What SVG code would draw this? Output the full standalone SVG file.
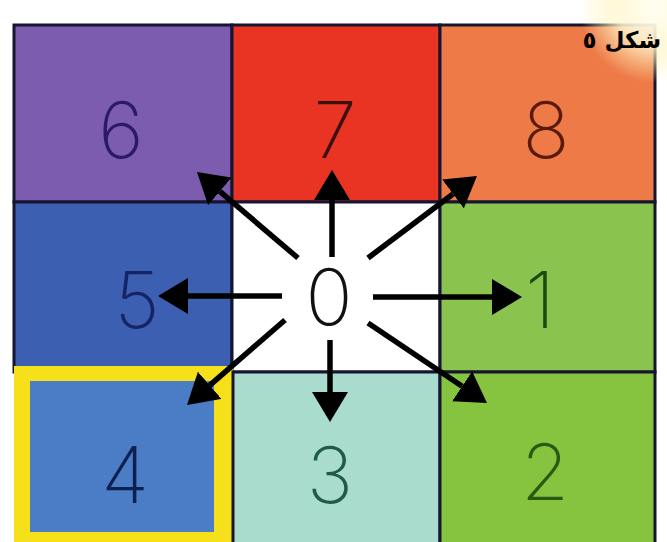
<svg xmlns="http://www.w3.org/2000/svg" width="667" height="542" viewBox="0 0 667 542">
<defs>
<marker id="ah" viewBox="0 0 30 36" refX="0" refY="18" markerWidth="30" markerHeight="36" markerUnits="userSpaceOnUse" orient="auto">
<path d="M0,0 L30,18 L0,36 z" fill="#000"/>
</marker>
<radialGradient id="glow" cx="655" cy="8" r="75" gradientUnits="userSpaceOnUse">
<stop offset="0" stop-color="#fffef4" stop-opacity="1"/>
<stop offset="0.5" stop-color="#fff8d2" stop-opacity="0.85"/>
<stop offset="1" stop-color="#fff2b0" stop-opacity="0"/>
</radialGradient>
<style>
.cell{stroke:#151530;stroke-width:3}
.num{font-family:Inter,"Liberation Sans",sans-serif;font-size:78px;text-anchor:middle;font-weight:200}
.arr{stroke:#000;stroke-width:5.5;fill:none;marker-end:url(#ah)}
</style>
</defs>
<rect x="0" y="0" width="667" height="542" fill="#fff"/>
<g id="cell6"><rect class="cell" x="14" y="25" width="218" height="177" fill="#7b5cae"/><text class="num" x="121" y="158" fill="#2b1a66">6</text></g>
<g id="cell7"><rect class="cell" x="232" y="25" width="208" height="177" fill="#e93424"/><text class="num" x="335" y="158" fill="#3b1010">7</text></g>
<g id="cell8"><rect class="cell" x="440" y="25" width="215" height="177" fill="#ee7a48"/><text class="num" x="546" y="158" fill="#5a1a0a">8</text></g>
<g id="cell5"><rect class="cell" x="14" y="202" width="218" height="170" fill="#3c5fb2"/><text class="num" x="137" y="328" fill="#142466">5</text></g>
<g id="cell0"><rect class="cell" x="232" y="202" width="208" height="170" fill="#ffffff"/><text class="num" x="329" y="325" fill="#111">0</text></g>
<g id="cell1"><rect class="cell" x="440" y="202" width="215" height="170" fill="#8bc34f"/><text class="num" x="540" y="328" fill="#1d4a10">1</text></g>
<g id="cell4"><rect x="14" y="366" width="219" height="176" fill="#f5e01a"/><rect x="30" y="381" width="184" height="151" fill="#4b7cc6"/><text class="num" x="125" y="503" fill="#0e2050">4</text></g>
<g id="cell3"><rect class="cell" x="233" y="372" width="207" height="172" fill="#a9dccc"/><text class="num" x="330" y="503" fill="#1f5a4a">3</text></g>
<g id="cell2"><rect class="cell" x="440" y="372" width="215" height="172" fill="#86c43f"/><text class="num" x="545" y="500" fill="#2a5a10">2</text></g>
<rect x="560" y="0" width="107" height="90" fill="url(#glow)"/>
<g id="connectors">
<line class="arr" x1="332" y1="257" x2="332" y2="200"/>
<line class="arr" x1="330" y1="340" x2="330" y2="392"/>
<line class="arr" x1="373" y1="297" x2="492" y2="297"/>
<line class="arr" x1="282" y1="296" x2="188" y2="296"/>
<line class="arr" x1="298" y1="258" x2="219.8" y2="191.4"/>
<line class="arr" x1="368" y1="258" x2="453" y2="194"/>
<line class="arr" x1="285" y1="320" x2="209.7" y2="385.3"/>
<line class="arr" x1="368" y1="323" x2="462.1" y2="386.3"/>
</g>
<g id="label"><text x="661" y="48" font-family="'DejaVu Sans',sans-serif" font-size="23" font-weight="bold" fill="#000" text-anchor="end">شکل ٥</text></g>
</svg>
